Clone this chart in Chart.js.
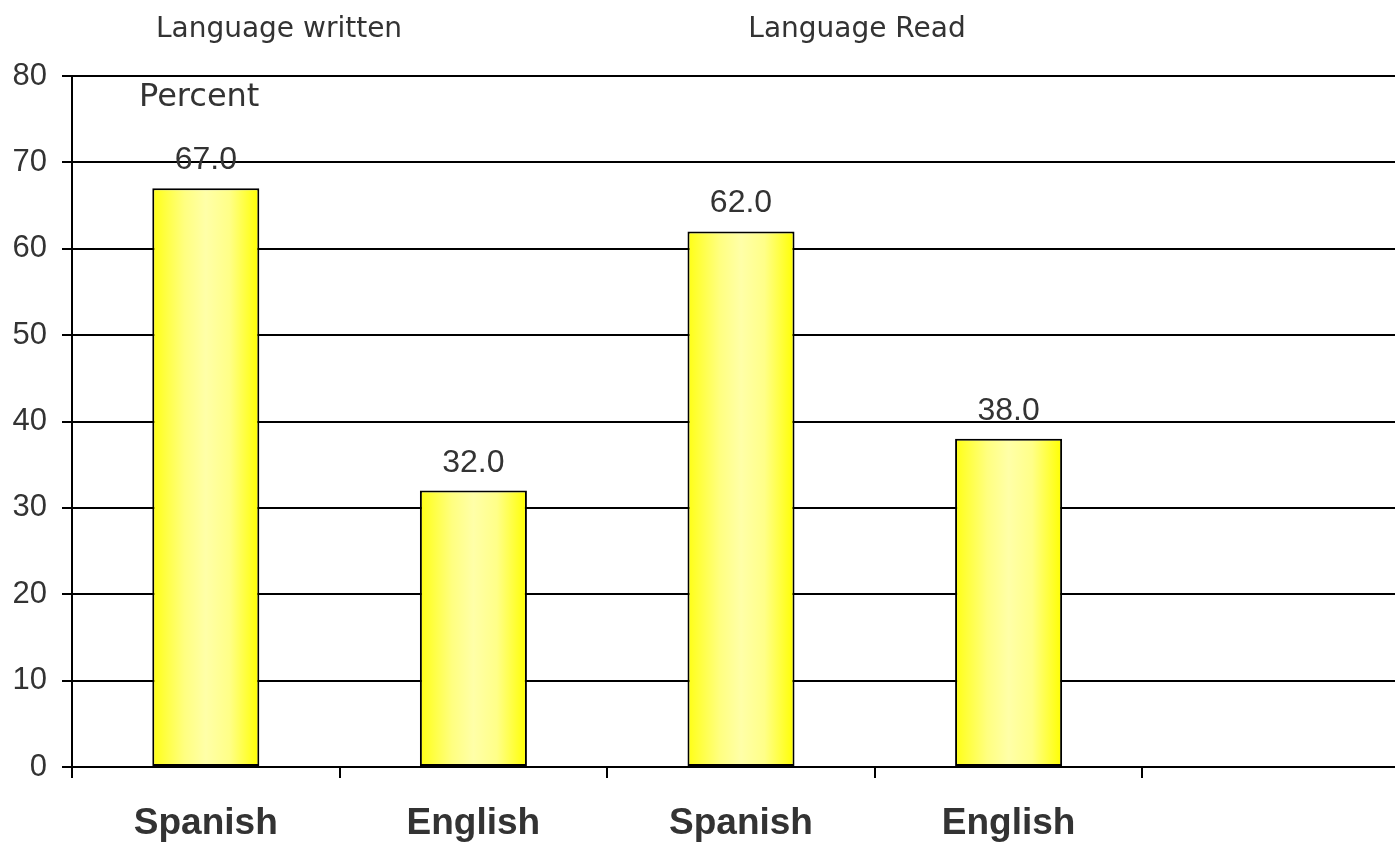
<!DOCTYPE html>
<html>
<head>
<meta charset="utf-8">
<script src="https://cdn.jsdelivr.net/npm/chart.js@4/dist/chart.umd.min.js"></script>
<style>
html,body{margin:0;padding:0;background:#fff;overflow:hidden;}
#wrap{position:absolute;left:0;top:0;width:1410px;height:844px;}
</style>
</head>
<body>
<div id="wrap"><canvas id="c" width="1410" height="844"></canvas></div>
<script>
const categories = ['Spanish', 'English', 'Spanish', 'English', ''];
const percentValues = [67.0, 32.0, 62.0, 38.0, null];
const yTicks = [0, 10, 20, 30, 40, 50, 60, 70, 80];
const groupTitles = ['Language written', 'Language Read'];
const axisTitle = 'Percent';

const TEXT = '#333333';
const BAR_PCT = 0.4;

function barGradient(context) {
  const chart = context.chart;
  const xs = chart.scales.x;
  if (!xs || !chart.chartArea) return '#ffff66';
  const cx = xs.getPixelForValue(context.dataIndex);
  const w = (xs.width / categories.length) * BAR_PCT;
  if (!isFinite(cx) || !isFinite(w)) return '#ffff66';
  const g = chart.ctx.createLinearGradient(cx - w / 2, 0, cx + w / 2, 0);
  g.addColorStop(0, '#ffff14');
  g.addColorStop(0.3, '#ffff80');
  g.addColorStop(0.5, '#ffffa8');
  g.addColorStop(0.72, '#ffff88');
  g.addColorStop(1, '#ffff00');
  return g;
}

const labelPlugin = {
  id: 'labels',
  afterDatasetsDraw(chart) {
    const ctx = chart.ctx;
    const meta = chart.getDatasetMeta(0);
    ctx.save();
    ctx.fillStyle = TEXT;
    ctx.textAlign = 'center';
    ctx.textBaseline = 'alphabetic';
    ctx.font = '32px "Liberation Sans", Arial, sans-serif';
    meta.data.forEach((el, i) => {
      const v = percentValues[i];
      if (v === null || v === undefined) return;
      ctx.fillText(v.toFixed(1), el.x, el.y - 19);
    });
    const a = chart.chartArea;
    ctx.font = '28px "DejaVu Sans", Verdana, sans-serif';
    ctx.fillText(groupTitles[0], a.left + 207, 37);
    ctx.fillText(groupTitles[1], a.left + 785, 37);
    ctx.font = '32px "DejaVu Sans", Verdana, sans-serif';
    ctx.textAlign = 'left';
    ctx.fillText(axisTitle, a.left + 67, 106);
    ctx.restore();
  }
};

new Chart(document.getElementById('c'), {
  type: 'bar',
  data: {
    labels: categories,
    datasets: [{
      data: percentValues,
      backgroundColor: barGradient,
      borderColor: '#000000',
      borderWidth: 2,
      borderSkipped: false,
      categoryPercentage: 1.0,
      barPercentage: BAR_PCT
    }]
  },
  options: {
    responsive: false,
    animation: false,
    devicePixelRatio: 1,
    layout: { padding: { top: 76, left: 0, right: 0, bottom: 0 } },
    plugins: { legend: { display: false }, tooltip: { enabled: false }, title: { display: false } },
    scales: {
      x: {
        offset: true,
        grid: { offset: true, drawOnChartArea: false, drawTicks: true, tickLength: 11, color: '#000', lineWidth: 2 },
        border: { display: true, color: '#000', width: 2 },
        ticks: { color: TEXT, padding: 24, font: { family: '"Liberation Sans", Arial, sans-serif', size: 37, weight: 'bold' }, maxRotation: 0, autoSkip: false },
        afterFit(s) { s.height = 77; }
      },
      y: {
        min: 0, max: 80,
        afterBuildTicks(s) { s.ticks = yTicks.map(v => ({ value: v })); },
        grid: { color: '#000', lineWidth: 2, tickLength: 10, drawTicks: true },
        border: { display: true, color: '#000', width: 2 },
        ticks: { color: TEXT, padding: 15, font: { family: '"Liberation Sans", Arial, sans-serif', size: 31 } },
        afterFit(s) { s.width = 72; }
      }
    }
  },
  plugins: [labelPlugin]
});
</script>
</body>
</html>
